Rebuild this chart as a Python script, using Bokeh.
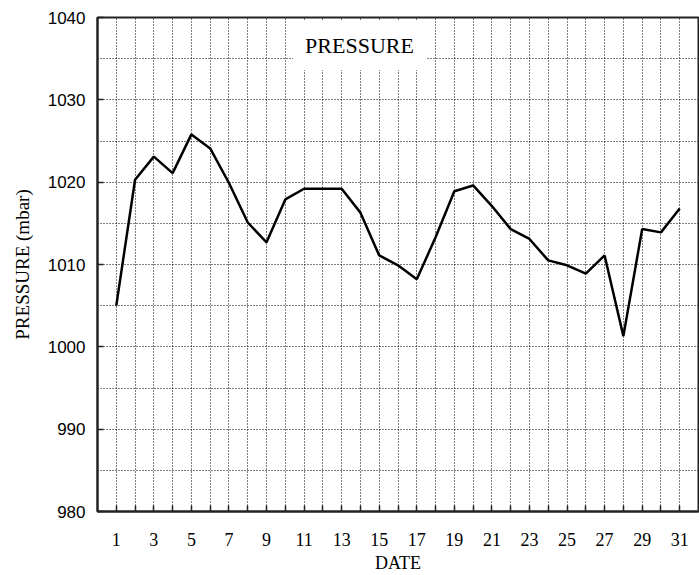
from bokeh.plotting import figure
from bokeh.models import FixedTicker, Label, Range1d
from bokeh.embed import file_html
from bokeh.resources import INLINE

# ---- data ----
days = list(range(1, 32))
pressure = [1005.0, 1020.3, 1023.1, 1021.1, 1025.8, 1024.1, 1019.9, 1015.1,
            1012.7, 1017.9, 1019.2, 1019.2, 1019.2, 1016.3, 1011.1, 1009.9,
            1008.2, 1013.3, 1018.9, 1019.6, 1017.1, 1014.3, 1013.1, 1010.5,
            1009.9, 1008.9, 1011.1, 1001.3, 1014.3, 1013.9, 1016.8]
y_ticks = [980, 990, 1000, 1010, 1020, 1030, 1040]
y_grid = [985, 990, 995, 1000, 1005, 1010, 1015, 1020, 1025, 1030, 1035]
x_labels = {d: (str(d) if d % 2 == 1 else "") for d in days}
title_text = "PRESSURE"
x_title = "DATE"
y_title = "PRESSURE (mbar)"

SERIF = "Liberation Serif"
SANS = "Liberation Sans"

p = figure(width=699, height=575, output_backend="svg", toolbar_location=None,
           x_range=Range1d(0, 32), y_range=Range1d(980, 1040),
           min_border_left=97, min_border_right=1, min_border_top=17,
           min_border_bottom=61)
p.background_fill_color = "white"
p.border_fill_color = "white"
p.outline_line_color = "#222222"
p.outline_line_width = 2

# axes
p.xaxis.ticker = FixedTicker(ticks=days)
p.xaxis.major_label_overrides = {d: s for d, s in x_labels.items()}
p.yaxis.ticker = FixedTicker(ticks=y_ticks)
for ax in (p.xaxis[0], p.yaxis[0]):
    ax.major_tick_in = 6
    ax.major_tick_out = 0
    ax.minor_tick_in = 0
    ax.minor_tick_out = 0
    ax.axis_line_color = "#222222"
    ax.axis_line_width = 2
    ax.major_tick_line_color = "#222222"
    ax.major_tick_line_width = 1.5
    ax.major_label_text_color = "black"
    ax.axis_label_text_color = "black"
    ax.axis_label_text_font_style = "normal"

p.xaxis.major_label_text_font = SERIF
p.xaxis.major_label_text_font_size = "18px"
p.xaxis.major_label_standoff = 21
p.xaxis.axis_label = x_title
p.xaxis.axis_label_text_font = SERIF
p.xaxis.axis_label_text_font_size = "18px"
p.xaxis.axis_label_standoff = 4

p.yaxis.major_label_text_font = SANS
p.yaxis.major_label_text_font_size = "17px"
p.yaxis.major_label_standoff = 12
p.yaxis.axis_label = y_title
p.yaxis.axis_label_text_font = SERIF
p.yaxis.axis_label_text_font_size = "19px"
p.yaxis.axis_label_standoff = 12

# grids
p.xgrid.ticker = FixedTicker(ticks=days)
p.ygrid.ticker = FixedTicker(ticks=y_grid)
for g in (p.xgrid[0], p.ygrid[0]):
    g.grid_line_color = "black"
    g.grid_line_dash = "1 2"
    g.grid_line_width = 1
    g.grid_line_alpha = 1.0

# data line
p.line(days, pressure, line_color="black", line_width=2.5)

# in-plot title with white box
p.add_layout(Label(x=13.95, y=1036.6, text=title_text, text_align="center",
                   text_baseline="middle", text_font=SERIF,
                   text_font_size="22px", text_color="black",
                   background_fill_color="white", padding=12))

open("out.html", "w").write(file_html(p, INLINE))
